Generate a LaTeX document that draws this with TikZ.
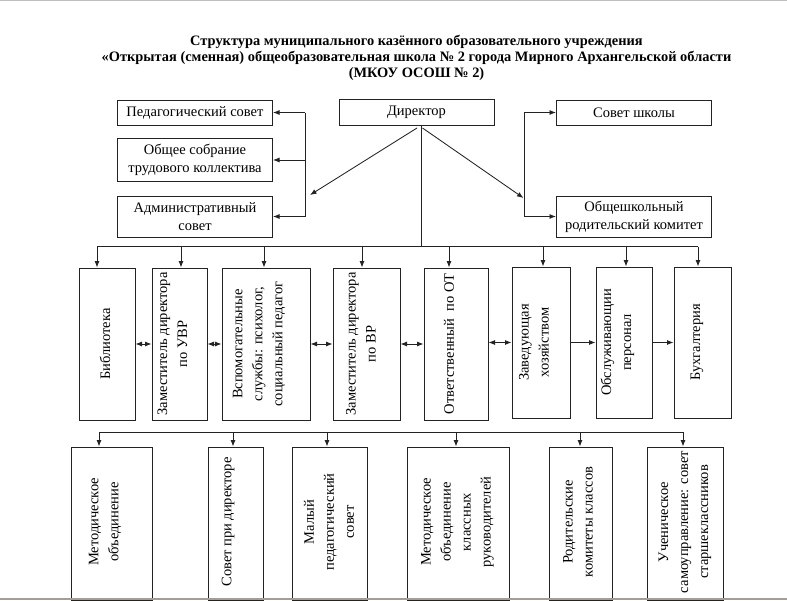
\documentclass[tikz,border=0pt]{standalone}
\usepackage{fontspec}
\setmainfont{Liberation Serif}
\usetikzlibrary{arrows.meta}
\definecolor{ln}{RGB}{35,35,35}
\definecolor{topband}{RGB}{190,190,190}
\definecolor{botband}{RGB}{165,158,148}
\begin{document}
\begin{tikzpicture}[x=1pt,y=-1pt,
  box/.style={draw=ln, line width=1pt, inner sep=0pt, align=center,
    font=\fontsize{14.5}{18}\selectfont},
  vtxt/.style={rotate=90, inner sep=0pt, align=center,
    font=\fontsize{14.5}{20}\selectfont},
  conn/.style={draw=ln, line width=0.85pt},
  arr/.style={conn, -{Latex[length=6.5pt,width=5pt]}},
  darr/.style={conn, {Latex[length=6.5pt,width=5pt]}-{Latex[length=6.5pt,width=5pt]}}]
\useasboundingbox (0,0) rectangle (787,600);
\fill[white] (0,0) rectangle (787,600);
\fill[topband] (0,0) rectangle (787,1.3);

% title
\node[align=center, inner sep=0pt, font=\fontsize{14.4}{15.8}\selectfont\bfseries] (title) at (416.5,58)
  {Структура муниципального казённого образовательного учреждения\\
   «Открытая (сменная) общеобразовательная школа № 2 города Мирного Архангельской области\\
   (МКОУ ОСОШ № 2)};

% top level
\node[box, minimum width=155, minimum height=26] (dir) at (416.5,112.5) {Директор};
\node[box, minimum width=155, minimum height=25] (ped) at (195,112.5) {Педагогический совет};
\node[box, minimum width=155, minimum height=43] (obs) at (195,160) {Общее собрание\\трудового коллектива};
\node[box, minimum width=155, minimum height=41] (adm) at (195,216.5) {Административный\\совет};
\node[box, minimum width=155, minimum height=25] (sov) at (634,112.5) {Совет школы};
\node[box, minimum width=155, minimum height=41] (rod) at (634,216.5) {Общешкольный\\родительский комитет};

% left bracket
\coordinate (lbx) at (305,0);
\draw[conn] (ped.east -| lbx) -- (adm.east -| lbx);
\draw[arr] (ped.east -| lbx) -- (ped.east);
\draw[arr] (obs.east -| lbx) -- (obs.east);
\draw[arr] (adm.east -| lbx) -- (adm.east);
\coordinate (ltip) at (310,195);
\draw[arr] ([xshift=0.5]dir.south) ++(0,2) -- (ltip);

% right bracket
\coordinate (rbx) at (524,0);
\draw[conn] (sov.west -| rbx) -- (rod.west -| rbx);
\draw[arr] (sov.west -| rbx) -- (sov.west);
\draw[arr] (rod.west -| rbx) -- (rod.west);
\coordinate (rtip) at (523.5,198);
\draw[arr] ([xshift=6]dir.south) ++(0,2) -- (rtip);

% middle row boxes
\node[box, minimum width=56, minimum height=152] (lib) at (107,344) {};
\node[vtxt] (libt) at (105,344) {Библиотека};
\node[box, minimum width=55, minimum height=152] (uvr) at (179.5,344) {};
\node[vtxt] (uvrt) at (172.5,344) {Заместитель директора\\по УВР};
\node[box, minimum width=88, minimum height=152] (vsp) at (266,344) {};
\node[vtxt] (vspt) at (259,344) {Вспомогательные\\службы: психолог,\\социальный педагог};
\node[box, minimum width=67, minimum height=152] (vr) at (366.5,344) {};
\node[vtxt] (vrt) at (361,344) {Заместитель директора\\по ВР};
\node[box, minimum width=64, minimum height=152] (ot) at (456,344) {};
\node[vtxt] (ott) at (449,344) {Ответственный~~по ОТ};
\node[box, minimum width=58, minimum height=151] (zav) at (541,342.5) {};
\node[vtxt] (zavt) at (534,342.5) {Заведующая\\хозяйством};
\node[box, minimum width=56, minimum height=151] (obsl) at (624,342.5) {};
\node[vtxt] (obslt) at (617.5,342.5) {Обслуживающии\\персонал};
\node[box, minimum width=57, minimum height=151] (buh) at (702.5,342.5) {};
\node[vtxt] (buht) at (697,342.5) {Бухгалтерия};

% director trunk and bar
\coordinate (trunk) at (421,246.5);
\draw[conn] (dir.south -| trunk) -- (trunk);
\coordinate (b1) at (97,246.5);
\coordinate (b2) at (181,246.5);
\coordinate (b3) at (264,246.5);
\coordinate (b4) at (362,246.5);
\coordinate (b5) at (449,246.5);
\coordinate (b6) at (543,246.5);
\coordinate (b7) at (626,246.5);
\coordinate (b8) at (698,246.5);
\draw[conn] (b1) -- (b8);
\draw[arr] (b1) -- (b1 |- lib.north);
\draw[arr] (b2) -- (b2 |- uvr.north);
\draw[arr] (b3) -- (b3 |- vsp.north);
\draw[arr] (b4) -- (b4 |- vr.north);
\draw[arr] (b5) -- (b5 |- ot.north);
\draw[arr] (b6) -- (b6 |- zav.north);
\draw[arr] (b7) -- (b7 |- obsl.north);
\draw[arr] (b8) -- (b8 |- buh.north);

% horizontal links
\draw[darr] (lib.east) -- (uvr.west);
\draw[darr] (uvr.east) -- (vsp.west);
\draw[darr] (vsp.east) -- (vr.west);
\draw[darr] (vr.east) -- (ot.west);
\draw[darr] (ot.east |- zav.west) -- (zav.west);
\draw[arr] (zav.east) -- (obsl.west);
\draw[arr] (obsl.east) -- (buh.west);

% bottom row boxes
\node[box, minimum width=81, minimum height=153] (mo) at (111.5,523.5) {};
\node[vtxt] (mot) at (105,522) {Методическое\\объединение};
\node[box, minimum width=55, minimum height=153] (spd) at (235.5,523.5) {};
\node[vtxt] (spdt) at (228,522) {Совет при директоре};
\node[box, minimum width=75, minimum height=153] (mps) at (329.5,523.5) {};
\node[vtxt] (mpst) at (329,522) {Малый\\педагогический\\совет};
\node[box, minimum width=102, minimum height=153] (mok) at (458,523.5) {};
\node[vtxt] (mokt) at (457.5,522) {Методическое\\объединение\\классных\\руководителей};
\node[box, minimum width=63, minimum height=153] (rk) at (580.5,523.5) {};
\node[vtxt] (rkt) at (578,522) {Родительские\\комитеты классов};
\node[box, minimum width=76, minimum height=153] (us) at (685,523.5) {};
\node[vtxt] (ust) at (685,522) {Ученическое\\самоуправление: совет\\старшеклассников};

\coordinate (c1) at (99,432);
\coordinate (c2) at (233,432);
\coordinate (c3) at (327,432);
\coordinate (c4) at (456,432);
\coordinate (c5) at (580,432);
\coordinate (c6) at (683,432);
\draw[conn] (c1) -- (c6);
\draw[arr] (c1) -- (c1 |- mo.north);
\draw[arr] (c2) -- (c2 |- spd.north);
\draw[arr] (c3) -- (c3 |- mps.north);
\draw[arr] (c4) -- (c4 |- mok.north);
\draw[arr] (c5) -- (c5 |- rk.north);
\draw[arr] (c6) -- (c6 |- us.north);

\fill[botband] (0,597.5) rectangle (787,600);
\end{tikzpicture}
\end{document}
